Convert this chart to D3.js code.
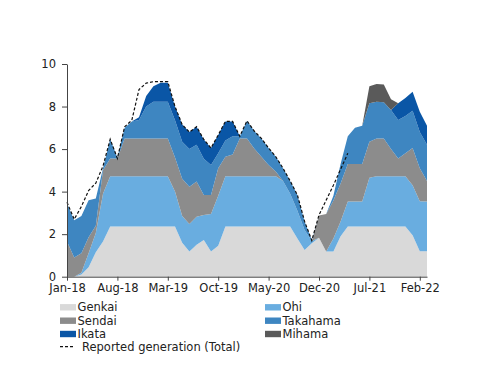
<!DOCTYPE html>
<html><head><meta charset="utf-8">
<script src="https://cdn.jsdelivr.net/npm/d3@7"></script>
<style>
body{margin:0;background:#fff;}
text{font-family:"DejaVu Sans",Verdana,sans-serif;}
</style>
</head><body>
<svg id="c" width="500" height="386"></svg>
<script>
const months = ["Jan-18","Feb-18","Mar-18","Apr-18","May-18","Jun-18","Jul-18","Aug-18","Sep-18","Oct-18","Nov-18","Dec-18",
"Jan-19","Feb-19","Mar-19","Apr-19","May-19","Jun-19","Jul-19","Aug-19","Sep-19","Oct-19","Nov-19","Dec-19",
"Jan-20","Feb-20","Mar-20","Apr-20","May-20","Jun-20","Jul-20","Aug-20","Sep-20","Oct-20","Nov-20","Dec-20",
"Jan-21","Feb-21","Mar-21","Apr-21","May-21","Jun-21","Jul-21","Aug-21","Sep-21","Oct-21","Nov-21","Dec-21",
"Jan-22","Feb-22","Mar-22"];
const tickLabels = ["Jan-18","Aug-18","Mar-19","Oct-19","May-20","Dec-20","Jul-21","Feb-22"];
const yTicks = [0,2,4,6,8,10];

const genkai = [0,0,0.1,0.45,1.15,1.65,2.36,2.36,2.36,2.36,2.36,2.36,2.36,2.36,2.36,2.36,1.6,1.18,1.5,1.72,1.18,1.45,2.36,2.36,2.36,2.36,2.36,2.36,2.36,2.36,2.36,2.36,1.8,1.25,1.57,1.83,1.18,1.18,1.9,2.36,2.36,2.36,2.36,2.36,2.36,2.36,2.36,2.36,1.95,1.2,1.2];
const ohi = [0,0,0.08,0.65,0.9,2.25,2.36,2.36,2.36,2.36,2.36,2.36,2.36,2.36,2.36,1.64,1.25,1.3,1.32,1.18,1.77,2.35,2.36,2.36,2.36,2.36,2.36,2.36,2.36,2.36,2.14,1.54,1.3,0.95,0.11,0,0,0.62,0.7,1.17,1.17,1.17,2.29,2.36,2.36,2.36,2.36,2.36,2.35,2.35,2.33];
const sendai = [1.65,0.9,0.92,0.75,0.35,1.1,0.84,0.84,1.78,1.78,1.78,1.78,1.78,1.78,1.78,1.6,1.75,1.75,1.65,0.94,0.89,1.3,0.92,1.03,1.78,1.78,1.31,0.92,0.53,0.23,0,0,0,0,0,1.05,1.77,1.78,1.78,1.77,1.77,1.77,1.7,1.78,1.78,1.28,0.84,1.08,1.75,1.55,0.97];
const takahama = [1.8,1.75,1.75,1.75,1.28,0.1,0.9,0.04,0.5,0.8,0.87,1.5,1.73,1.73,1.73,1.75,1.75,1.77,1.73,1.71,1.41,0.7,0.76,0.85,0.1,0.83,0.82,0.86,0.8,0.69,0.6,0.6,0.74,0.4,0.04,0,0,0.22,0.92,1.3,1.7,1.8,1.8,1.73,1.7,1.84,1.81,1.75,1.75,1.7,1.7];
const ikata = [0,0,0,0,0,0,0,0,0,0,0.13,0.5,0.72,0.89,0.89,0.65,0.8,0.8,0.85,0.9,0.8,0.86,0.9,0.7,0,0,0,0,0,0,0,0,0,0,0,0,0,0,0,0,0,0,0,0,0,0,0.78,0.85,0.9,0.96,0.9];
const mihama = [0,0,0,0,0,0,0,0,0,0,0,0,0,0,0,0,0,0,0,0,0,0,0,0,0,0,0,0,0,0,0,0,0,0,0,0,0,0,0,0,0,0,0.8,0.83,0.84,0.5,0,0,0,0,0];
const reported = [3.5,2.7,3.3,4.05,4.4,5.2,6.46,5.56,7.05,7.35,8.8,9.1,9.17,9.17,9.17,8.0,7.15,6.8,7.05,6.45,6.05,6.66,7.3,7.3,6.6,7.33,6.85,6.5,6.05,5.64,5.1,4.5,3.84,2.6,1.7,2.9,3.6,4.3,5.05,5.8];

const seriesNames = ["Genkai","Ohi","Sendai","Takahama","Ikata","Mihama"];
const seriesValues = [genkai, ohi, sendai, takahama, ikata, mihama];
const colors = ["#D9D9D9","#69ADE0","#8C8C8C","#3E86C1","#0A56A6","#5A5A5A"];
const lineName = "Reported generation (Total)";

const table = months.map((m,i)=>{
  const row = {month:m};
  seriesNames.forEach((n,k)=>row[n]=seriesValues[k][i]);
  return row;
});

const svg = d3.select("#c");
const x = d3.scalePoint().domain(months).range([67,427]);
const y = d3.scaleLinear().domain([0,10]).range([276.7,64]);

const stack = d3.stack().keys(seriesNames);
const layers = stack(table);
const area = d3.area().x(d=>x(d.data.month)).y0(d=>y(d[0])).y1(d=>y(d[1]));

svg.append("g").selectAll("path").data(layers).join("path")
  .attr("d", area).attr("fill",(d,i)=>colors[i]);

const line = d3.line().x((d,i)=>x(months[i])).y(d=>y(d));
svg.append("path").datum(reported).attr("d", line)
  .attr("fill","none").attr("stroke","#111").attr("stroke-width",1.2)
  .attr("stroke-dasharray","3,2");

const fs = "11.5px";
const xa = svg.append("g").attr("transform","translate(0,276.7)")
  .call(d3.axisBottom(x).tickValues(tickLabels).tickSize(4).tickSizeOuter(0).tickPadding(3));
const ya = svg.append("g").attr("transform","translate(67,0)")
  .call(d3.axisLeft(y).tickValues(yTicks).tickSize(5).tickSizeOuter(0).tickPadding(6).tickFormat(d3.format("d")));
[xa,ya].forEach(a=>{
  a.select(".domain").attr("stroke","#444");
  a.selectAll(".tick line").attr("stroke","#444");
  a.selectAll("text").attr("fill","#222").style("font-size",fs).style("font-family","'DejaVu Sans',Verdana,sans-serif");
});

// legend
const leg = svg.append("g");
const colX = [60,265], rowY = [307.3,320.7,334];
seriesNames.forEach((n,k)=>{
  const cx = colX[k%2], cy = rowY[Math.floor(k/2)];
  leg.append("rect").attr("x",cx).attr("y",cy-3.2).attr("width",16).attr("height",6.4).attr("fill",colors[k]);
  leg.append("text").attr("x",cx+17.5).attr("y",cy).attr("dy","0.35em")
    .attr("fill","#222").style("font-size",fs).text(n);
});
leg.append("line").attr("x1",60).attr("x2",75).attr("y1",346.7).attr("y2",346.7)
  .attr("stroke","#111").attr("stroke-width",1.2).attr("stroke-dasharray","3,2");
leg.append("text").attr("x",82).attr("y",346.7).attr("dy","0.35em")
  .attr("fill","#222").style("font-size",fs).text(lineName);
</script>
</body></html>
